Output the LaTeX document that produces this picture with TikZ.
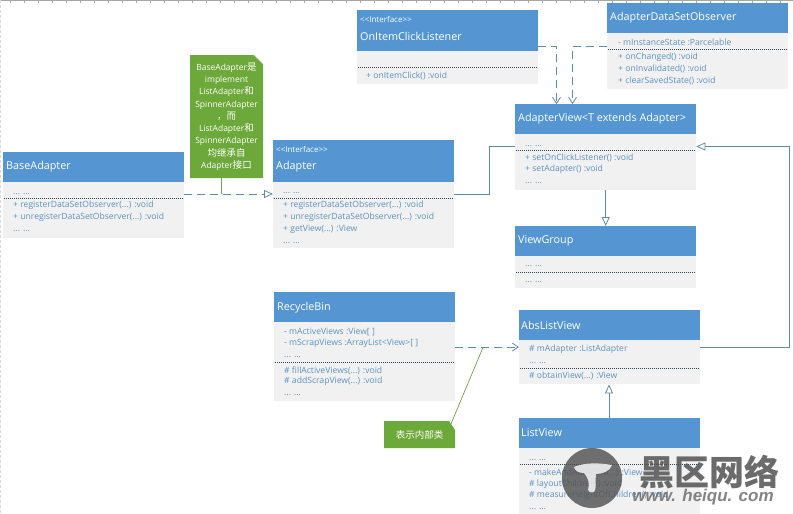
\documentclass[tikz,border=0pt]{standalone}
\usepackage{fontspec}
\setmainfont{Open Sans}
\newfontfamily\cjk{Noto Sans CJK SC}
\newfontfamily\wmfont{Liberation Sans}
\usetikzlibrary{arrows.meta}
\definecolor{hdr}{HTML}{5596D2}
\definecolor{bodybg}{HTML}{F1F1F2}
\definecolor{mem}{HTML}{5B92C2}
\definecolor{conn}{HTML}{5E8CAB}
\definecolor{notegreen}{HTML}{6DA83A}
\tikzset{
  x=1pt,y=-1pt,
  headbox/.style={fill=hdr,inner sep=0pt,anchor=north west,minimum width=181pt},
  bodybox/.style={fill=bodybg,inner sep=0pt,anchor=north west,minimum width=181pt},
  titletxt/.style={text=white,anchor=west,inner sep=0pt,yshift=-1pt,font=\fontsize{10.8}{12}\selectfont},
  stereo/.style={text=white,anchor=west,inner sep=0pt,yshift=-.5pt,font=\fontsize{8}{9}\selectfont},
  memtxt/.style={text=mem,anchor=west,inner sep=0pt,yshift=-.7pt,font=\fontsize{8.6}{10}\selectfont},
  sep/.style={black!55!hdr,line width=.5pt,dash pattern=on 1pt off 1pt},
  solidc/.style={conn,line width=.8pt},
  dashc/.style={conn,line width=.8pt,dash pattern=on 8pt off 5pt},
  hollow/.style={-{Triangle[open,length=9pt,width=8pt,fill=white]}},
  openar/.style={-{Straight Barb[length=6pt,width=8pt]}},
  notelink/.style={notegreen!75!gray,line width=.7pt},
  notetxt/.style={text=white,align=center,font=\fontsize{8.5}{12.25}\selectfont,inner sep=0pt},
}
% #1 name, #2 x, #3 y, #4 total height, #5 header height, #6 separator y offset
\newcommand{\umlclass}[6]{%
  \node[headbox,minimum height=#5pt] (#1) at (#2,#3) {};
  \node[bodybox,minimum height=#4pt-#5pt] (#1b) at (#2,#3+#5) {};
  \draw[sep] (#2+1,#3+#6) -- (#2+180,#3+#6);
}
\newcommand{\cj}[1]{{\cjk\fontsize{9.5}{12.25}\selectfont #1}}
\begin{document}
\begin{tikzpicture}
\useasboundingbox (0,0) rectangle (793,514);
\fill[white] (0,0) rectangle (793,514);
% ruler marks
\draw[black!35,line width=.6pt] (0,0.5) -- (793,0.5);
\foreach \i in {0,...,56} \draw[black!35,line width=.5pt] (\i*14+10,0) -- (\i*14+10,3);
\draw[black!15,line width=.8pt,dash pattern=on 3pt off 2pt] (0.5,0) -- (0.5,514);

\umlclass{onitem}{357}{10}{74}{41}{57}
\node[stereo] (onitems) at (360,19) {{<}{<}Interface{>}{>}};
\node[titletxt] (onitemt) at (360,35) {OnItemClickListener};
\node[memtxt] (onitem1) at (366,75) {+ onItemClick() :void};

\umlclass{obs}{607}{3}{86}{30}{46}
\node[titletxt] (obst) at (610,17) {AdapterDataSetObserver};
\node[memtxt] (obs1) at (618,42) {- mInstanceState :Parcelable};
\node[memtxt] (obs2) at (618,57) {+ onChanged() :void};
\node[memtxt] (obs3) at (618,68) {+ onInvalidated() :void};
\node[memtxt] (obs4) at (618,80) {+ clearSavedState() :void};

\umlclass{av}{515}{104}{86}{30}{46}
\node[titletxt] (avt) at (518,118) {AdapterView<T extends Adapter>};
\node[memtxt] (av0) at (525,145) {... ...};
\node[memtxt] (av1) at (525,157) {+ setOnClickListener() :void};
\node[memtxt] (av2) at (525,169) {+ setAdapter() :void};
\node[memtxt] (av3) at (525,182) {... ...};

\umlclass{base}{3}{152}{86}{30}{46}
\node[titletxt] (baset) at (6,166) {BaseAdapter};
\node[memtxt] (base0) at (13,193) {... ...};
\node[memtxt] (base1) at (13,205) {+ registerDataSetObserver(...) :void};
\node[memtxt] (base2) at (13,217) {+ unregisterDataSetObserver(...) :void};
\node[memtxt] (base3) at (13,230) {... ...};

\umlclass{ad}{273}{140}{108}{42}{58}
\node[stereo] (ads) at (276,149) {{<}{<}Interface{>}{>}};
\node[titletxt] (adt) at (276,166) {Adapter};
\node[memtxt] (ad0) at (283,192) {... ...};
\node[memtxt] (ad1) at (283,205) {+ registerDataSetObserver(...) :void};
\node[memtxt] (ad2) at (283,217) {+ unregisterDataSetObserver(...) :void};
\node[memtxt] (ad3) at (283,229) {+ getView(...) :View};
\node[memtxt] (ad4) at (283,242) {... ...};

\umlclass{vg}{515}{226}{62}{30}{46}
\node[titletxt] (vgt) at (518,240) {ViewGroup};
\node[memtxt] (vg0) at (525,265) {... ...};
\node[memtxt] (vg1) at (525,281) {... ...};

\umlclass{rb}{274}{292}{109}{30}{70}
\node[titletxt] (rbt) at (277,307) {RecycleBin};
\node[memtxt] (rb1) at (284,331) {- mActiveViews :View[ ]};
\node[memtxt] (rb2) at (284,343) {- mScrapViews :ArrayList<View>[ ]};
\node[memtxt] (rb3) at (284,356) {... ...};
\node[memtxt] (rb4) at (284,370) {\# fillActiveViews(...) :void};
\node[memtxt] (rb5) at (284,381) {\# addScrapView(...) :void};
\node[memtxt] (rb6) at (284,394) {... ...};

\umlclass{alv}{519}{310}{74}{30}{58}
\node[titletxt] (alvt) at (521,324) {AbsListView};
\node[memtxt] (alv1) at (529,349) {\# mAdapter :ListAdapter};
\node[memtxt] (alv2) at (529,362) {... ...};
\node[memtxt] (alv3) at (529,375) {\# obtainView(...) :View};

\umlclass{lv}{519}{418}{96}{30}{46}
\node[titletxt] (lvt) at (521,432) {ListView};
\node[memtxt] (lv0) at (529,459) {... ...};
\node[memtxt] (lv1) at (529,472) {-  makeAndAddView(...) :View};
\node[memtxt] (lv2) at (529,484) {\# layoutChildren() :void};
\node[memtxt] (lv3) at (529,495) {\# measureHeightOfChildren() :void};
\node[memtxt] (lv4) at (529,508) {... ...};

% notes
\fill[notegreen] (190,55) -- (254,55) -- (263,64) -- (263,178) -- (190,178) -- cycle;
\draw[black!15,line width=.4pt] (254,55) -- (263,64);
\node[notetxt,text width=73pt] (note1) at (226.5,116.5) {BaseAdapter\cj{是}\\implement\\ListAdapter\cj{和}\\SpinnerAdapter\\\cj{，而}\\ListAdapter\cj{和}\\SpinnerAdapter\\\cj{均继承自}\\Adapter\cj{接口}};
\fill[notegreen] (384,421) -- (449,421) -- (455,430) -- (455,448) -- (384,448) -- cycle;
\node[notetxt] (note2) at (419.5,434.5) {\cj{表示内部类}};

% named connector ends
\coordinate (baseout) at ([yshift=-42pt]base.north east);
\coordinate (adout) at ([yshift=-54pt]ad.north east);
\coordinate (avin) at ([yshift=-42.5pt]av.north west);
\coordinate (avinr) at ([yshift=-42.5pt]av.north east);
\coordinate (onout) at ([yshift=-36.5pt]onitem.north east);
\coordinate (obsout) at ([yshift=-43.5pt]obs.north west);
\coordinate (rbout) at ([yshift=-55pt]rb.north east);
\coordinate (alvout) at ([yshift=-37pt]alv.north east);
\coordinate (alvin) at ([yshift=-37pt]alv.north west);
\coordinate (onkn) at ([xshift=41.5pt]av.north west);
\coordinate (obskn) at ([xshift=57.5pt]av.north west);
\coordinate (lvup) at ([xshift=90pt]lv.north west);
\coordinate (note2e) at (483,347.5);

% connectors
\draw[notelink] (221.5,178) -- (221.5,194);
\draw[notelink] (450.5,425) -- (note2e);
\draw[dashc,hollow] (baseout) -- (baseout -| ad.west);
\draw[solidc] (adout) -- (489,194) -- (489,146.5) -- (avin);
\draw[solidc,hollow] (avb.south) -- (vg.north);
\draw[solidc,hollow] (alvout) -- (789.5,347) -- (789.5,146.5) -- (avinr);
\draw[solidc,hollow] (lvup) -- (lvup |- alvb.south);
\draw[dashc,openar] (onout) -- (onout -| onkn) -- (onkn);
\draw[dashc,openar] (obsout) -- (obsout -| obskn) -- (obskn);
\draw[dashc,openar] (rbout) -- (alvin);

% watermark
\fill[black!68,opacity=.82] (592,478) circle[radius=30];
\fill[white,opacity=.8] (574,467) .. controls (586,462) and (600,463) .. (612,465) .. controls (610,471) and (603,474) .. (596,474) .. controls (595,482) and (597,488) .. (594,492) .. controls (591,493) and (588,492) .. (588,490) .. controls (590,484) and (588,477) .. (584,473) .. controls (579,473) and (575,471) .. (574,467) -- cycle;
\node[inner sep=0pt,text=black!68,opacity=.85,font=\cjk\bfseries\fontsize{35}{36}\selectfont] (wm1) at (709,472) {黑区网络};
\node[inner sep=0pt,text=black!60,opacity=.8,font=\wmfont\bfseries\itshape\fontsize{17}{18}\selectfont] (wm2) at (703,497) {www. heiqu. com};
\end{tikzpicture}
\end{document}
